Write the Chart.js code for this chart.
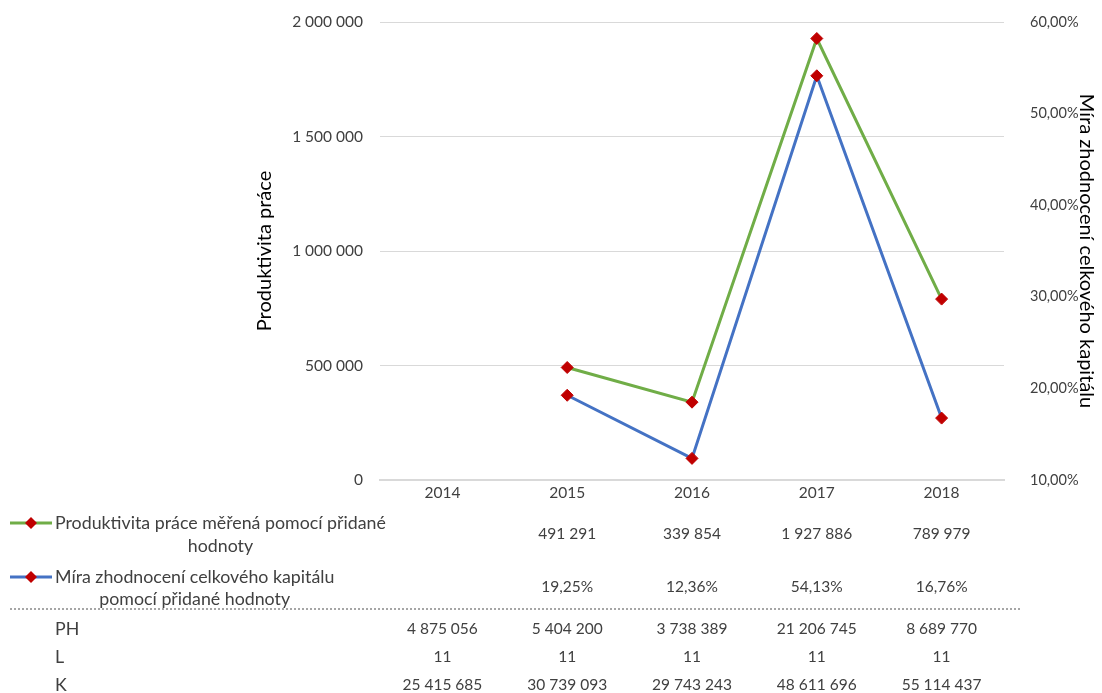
<!DOCTYPE html>
<html><head><meta charset="utf-8">
<script src="https://cdn.jsdelivr.net/npm/chart.js@4"></script>
<style>html,body{margin:0;padding:0;background:#fff}</style>
</head><body>
<canvas id="c" width="1102" height="693"></canvas>
<script>
const years = ['2014', '2015', '2016', '2017', '2018'];
const productivity = [null, 491291, 339854, 1927886, 789979];
const returnRate = [null, 19.25, 12.36, 54.13, 16.76];
const phValues = [4875056, 5404200, 3738389, 21206745, 8689770];
const lValues = [11, 11, 11, 11, 11];
const kValues = [25415685, 30739093, 29743243, 48611696, 55114437];
const seriesNames = ['Produktivita práce měřená pomocí přidané|hodnoty', 'Míra zhodnocení celkového kapitálu|pomocí přidané hodnoty'];
const extraRowNames = ['PH', 'L', 'K'];
const leftTitle = 'Produktivita práce';
const rightTitle = 'Míra zhodnocení celkového kapitálu';

const FONT = 'Lato';
const FS = 15.5;      // numbers
const FT = 17.8;      // text labels
const FTITLE = 20;    // axis titles
const GREEN = '#70AD47', BLUE = '#4472C4', RED = '#C00000';
const TXT = '#404040';

function fmtNum(v) { return String(Math.round(v)).replace(/\B(?=(\d{3})+(?!\d))/g, ' '); }
function fmtPct(v) { return v.toFixed(2).replace('.', ',') + '%'; }

const tablePlugin = {
  id: 'tablePlugin',
  afterDraw(chart) {
    const ctx = chart.ctx;
    const xs = chart.scales.x;
    ctx.save();
    ctx.fillStyle = TXT;
    ctx.textBaseline = 'middle';
    const rows = [
      {name: seriesNames[0], color: GREEN, vals: productivity.map(v => v == null ? '' : fmtNum(v)), y1: 523, y2: 546, yv: 534},
      {name: seriesNames[1], color: BLUE, vals: returnRate.map(v => v == null ? '' : fmtPct(v)), y1: 577, y2: 599, yv: 587}
    ];
    rows.forEach(r => {
      ctx.strokeStyle = r.color; ctx.lineWidth = 3;
      ctx.beginPath(); ctx.moveTo(10, r.y1); ctx.lineTo(52, r.y1); ctx.stroke();
      ctx.fillStyle = RED;
      ctx.beginPath(); ctx.moveTo(31, r.y1 - 6); ctx.lineTo(37, r.y1); ctx.lineTo(31, r.y1 + 6); ctx.lineTo(25, r.y1); ctx.closePath(); ctx.fill();
      ctx.fillStyle = TXT;
      ctx.font = FT + 'px ' + FONT;
      const parts = r.name.split('|');
      ctx.textAlign = 'left';
      ctx.fillText(parts[0], 55, r.y1);
      const w = ctx.measureText(parts[0]).width;
      ctx.textAlign = 'center';
      ctx.fillText(parts[1], 55 + w / 2, r.y2);
      ctx.font = FS + 'px ' + FONT;
      r.vals.forEach((t, i) => { if (t) ctx.fillText(t, xs.getPixelForValue(i), r.yv); });
    });
    ctx.strokeStyle = '#A6A6A6'; ctx.lineWidth = 2; ctx.setLineDash([2, 2]);
    ctx.beginPath(); ctx.moveTo(10, 609); ctx.lineTo(1020, 609); ctx.stroke();
    ctx.setLineDash([]);
    const extra = [phValues, lValues, kValues];
    const ys = [629, 657, 685];
    extra.forEach((arr, k) => {
      ctx.textAlign = 'left';
      ctx.font = FT + 'px ' + FONT;
      ctx.fillText(extraRowNames[k], 55, ys[k]);
      ctx.textAlign = 'center';
      ctx.font = FS + 'px ' + FONT;
      arr.forEach((v, i) => ctx.fillText(fmtNum(v), xs.getPixelForValue(i), ys[k]));
    });
    ctx.restore();
  }
};

new Chart(document.getElementById('c'), {
  type: 'line',
  data: {
    labels: years,
    datasets: [
      {label: seriesNames[0].replace('|', ' '), data: productivity, yAxisID: 'y', borderColor: GREEN, borderWidth: 3,
       pointStyle: 'rectRot', pointRadius: 6, pointBackgroundColor: RED, pointBorderColor: RED, pointBorderWidth: 1, tension: 0},
      {label: seriesNames[1].replace('|', ' '), data: returnRate, yAxisID: 'y1', borderColor: BLUE, borderWidth: 3,
       pointStyle: 'rectRot', pointRadius: 6, pointBackgroundColor: RED, pointBorderColor: RED, pointBorderWidth: 1, tension: 0}
    ]
  },
  options: {
    responsive: false,
    animation: false,
    layout: {padding: {left: 250, right: 0, top: 22, bottom: 0}},
    plugins: {legend: {display: false}, tooltip: {enabled: false}},
    scales: {
      x: {
        offset: true,
        grid: {display: false, drawTicks: false},
        border: {display: true, color: '#D9D9D9', width: 2},
        ticks: {color: TXT, font: {family: FONT, size: FS}, padding: 4, maxRotation: 0},
        afterFit(s) { s.height = 213; s.paddingLeft = 0; s.paddingRight = 0; }
      },
      y: {
        position: 'left', min: 0, max: 2000000,
        ticks: {stepSize: 500000, color: TXT, font: {family: FONT, size: FS}, padding: 17, callback: v => fmtNum(v)},
        grid: {color: '#D9D9D9', drawTicks: false, lineWidth: 1},
        border: {display: false},
        title: {display: true, text: leftTitle, color: '#000', font: {family: FONT, size: FTITLE}, padding: {top: 3, bottom: 0}},
        afterFit(s) { s.width = 130; s.paddingTop = 0; s.paddingBottom = 0; }
      },
      y1: {
        position: 'right', min: 10, max: 60,
        ticks: {stepSize: 10, color: TXT, font: {family: FONT, size: 14.5}, padding: 26, callback: v => fmtPct(v)},
        grid: {display: false, drawTicks: false},
        border: {display: false},
        title: {display: true, text: rightTitle, color: '#000', font: {family: FONT, size: FTITLE}, padding: {top: 4, bottom: 0}},
        afterFit(s) { s.width = 98; s.paddingTop = 0; s.paddingBottom = 0; }
      }
    }
  },
  plugins: [tablePlugin]
});
</script>
</body></html>
